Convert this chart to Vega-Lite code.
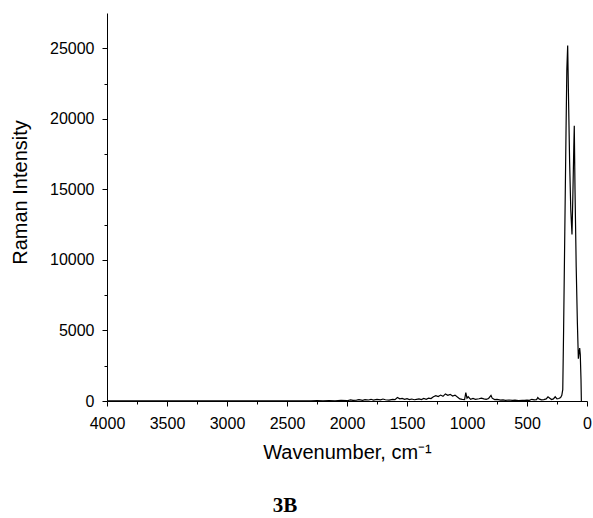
{
  "$schema": "https://vega.github.io/schema/vega-lite/v6.json",
  "autosize": "none",
  "width": 480,
  "height": 388,
  "padding": {"left": 107, "top": 13, "right": 6, "bottom": 117},
  "background": "white",
  "config": {
    "view": {"stroke": null},
    "font": "Liberation Sans",
    "axis": {"grid": false, "domainColor": "#000", "tickColor": "#000", "labelColor": "#000", "titleColor": "#000", "labelFont": "Liberation Sans", "titleFont": "Liberation Sans", "labelFontSize": 16, "titleFontSize": 20, "titleFontWeight": "normal", "domainWidth": 1, "tickWidth": 1, "labelFlush": false, "labelOverlap": false}
  },
  "title": {"text": "3B", "orient": "bottom", "anchor": "middle", "dx": -62, "offset": 33, "font": "Liberation Serif", "fontSize": 21, "fontWeight": "bold", "color": "#000"},
  "data": {"values": [
    {"w": 4000, "i": 5}, {"w": 3900, "i": 3}, {"w": 3800, "i": 6}, {"w": 3700, "i": 4}, {"w": 3600, "i": 5},
    {"w": 3500, "i": 3}, {"w": 3400, "i": 6}, {"w": 3300, "i": 4}, {"w": 3200, "i": 5}, {"w": 3100, "i": 7},
    {"w": 3000, "i": 5}, {"w": 2900, "i": 8}, {"w": 2800, "i": 6}, {"w": 2700, "i": 10}, {"w": 2600, "i": 8},
    {"w": 2500, "i": 12}, {"w": 2400, "i": 10}, {"w": 2300, "i": 15}, {"w": 2250, "i": 20}, {"w": 2200, "i": 10},
    {"w": 2150, "i": 30}, {"w": 2100, "i": 15}, {"w": 2050, "i": 40}, {"w": 2000, "i": 20}, {"w": 1970, "i": 80},
    {"w": 1950, "i": 40}, {"w": 1920, "i": 60}, {"w": 1900, "i": 90}, {"w": 1870, "i": 50}, {"w": 1850, "i": 100},
    {"w": 1820, "i": 70}, {"w": 1800, "i": 120}, {"w": 1780, "i": 60}, {"w": 1750, "i": 110}, {"w": 1720, "i": 80},
    {"w": 1700, "i": 140}, {"w": 1680, "i": 90}, {"w": 1650, "i": 60}, {"w": 1620, "i": 120}, {"w": 1600, "i": 100},
    {"w": 1580, "i": 250}, {"w": 1560, "i": 150}, {"w": 1540, "i": 180}, {"w": 1520, "i": 120}, {"w": 1500, "i": 160},
    {"w": 1480, "i": 100}, {"w": 1460, "i": 140}, {"w": 1440, "i": 90}, {"w": 1420, "i": 120}, {"w": 1400, "i": 150},
    {"w": 1380, "i": 100}, {"w": 1360, "i": 180}, {"w": 1340, "i": 120}, {"w": 1320, "i": 200}, {"w": 1300, "i": 170},
    {"w": 1280, "i": 300}, {"w": 1260, "i": 380}, {"w": 1240, "i": 310}, {"w": 1220, "i": 420}, {"w": 1200, "i": 330},
    {"w": 1180, "i": 500}, {"w": 1160, "i": 400}, {"w": 1140, "i": 470}, {"w": 1120, "i": 350}, {"w": 1100, "i": 420},
    {"w": 1080, "i": 280}, {"w": 1060, "i": 150}, {"w": 1040, "i": 120}, {"w": 1020, "i": 100}, {"w": 1010, "i": 600},
    {"w": 1000, "i": 200}, {"w": 990, "i": 300}, {"w": 970, "i": 120}, {"w": 950, "i": 180}, {"w": 930, "i": 120},
    {"w": 900, "i": 160}, {"w": 880, "i": 200}, {"w": 860, "i": 150}, {"w": 840, "i": 120}, {"w": 820, "i": 180},
    {"w": 800, "i": 400}, {"w": 790, "i": 200}, {"w": 770, "i": 100}, {"w": 750, "i": 120}, {"w": 720, "i": 60},
    {"w": 700, "i": 80}, {"w": 680, "i": 50}, {"w": 650, "i": 70}, {"w": 620, "i": 40}, {"w": 600, "i": 60},
    {"w": 570, "i": 30}, {"w": 540, "i": 50}, {"w": 520, "i": 40}, {"w": 500, "i": 60}, {"w": 480, "i": 50},
    {"w": 460, "i": 120}, {"w": 440, "i": 80}, {"w": 420, "i": 100}, {"w": 410, "i": 250}, {"w": 400, "i": 150},
    {"w": 380, "i": 80}, {"w": 360, "i": 100}, {"w": 340, "i": 150}, {"w": 325, "i": 300}, {"w": 310, "i": 200},
    {"w": 295, "i": 100}, {"w": 280, "i": 150}, {"w": 265, "i": 300}, {"w": 250, "i": 150}, {"w": 235, "i": 180},
    {"w": 220, "i": 250}, {"w": 210, "i": 400}, {"w": 202, "i": 800}, {"w": 195, "i": 5000}, {"w": 185, "i": 12000},
    {"w": 175, "i": 19000}, {"w": 168, "i": 23500}, {"w": 161, "i": 25200}, {"w": 155, "i": 22000}, {"w": 145, "i": 17000},
    {"w": 135, "i": 13500}, {"w": 125, "i": 11800}, {"w": 118, "i": 14500}, {"w": 110, "i": 18000}, {"w": 106, "i": 19500},
    {"w": 100, "i": 15000}, {"w": 90, "i": 9500}, {"w": 80, "i": 5500}, {"w": 72, "i": 3000}, {"w": 65, "i": 3500},
    {"w": 61, "i": 3750}, {"w": 56, "i": 3300}, {"w": 50, "i": 1500}, {"w": 47, "i": 0}
  ]},
  "mark": {"type": "line", "color": "#000", "strokeWidth": 1.2, "clip": true},
  "encoding": {
    "x": {
      "field": "w", "type": "quantitative",
      "scale": {"domain": [0, 4000], "reverse": true, "nice": false, "zero": false},
      "axis": {
        "title": "Wavenumber, cm⁻¹",
        "values": [0, 250, 500, 750, 1000, 1250, 1500, 1750, 2000, 2250, 2500, 2750, 3000, 3250, 3500, 3750, 4000],
        "format": "d",
        "labelExpr": "datum.value % 500 === 0 ? datum.label : ''",
        "tickSize": {"condition": {"test": "datum.value % 500 !== 0", "value": 3}, "value": 5},
        "labelPadding": 9,
        "titlePadding": 11
      }
    },
    "y": {
      "field": "i", "type": "quantitative",
      "scale": {"domain": [0, 27500], "nice": false},
      "axis": {
        "title": "Raman Intensity",
        "values": [0, 2500, 5000, 7500, 10000, 12500, 15000, 17500, 20000, 22500, 25000],
        "format": "d",
        "labelExpr": "datum.value % 5000 === 0 ? datum.label : ''",
        "tickSize": {"condition": {"test": "datum.value % 5000 !== 0", "value": 3}, "value": 5},
        "labelPadding": 8,
        "titleX": -87,
        "titleY": 179,
        "titleAlign": "center",
        "titleBaseline": "middle",
        "titleAngle": -90
      }
    }
  }
}
